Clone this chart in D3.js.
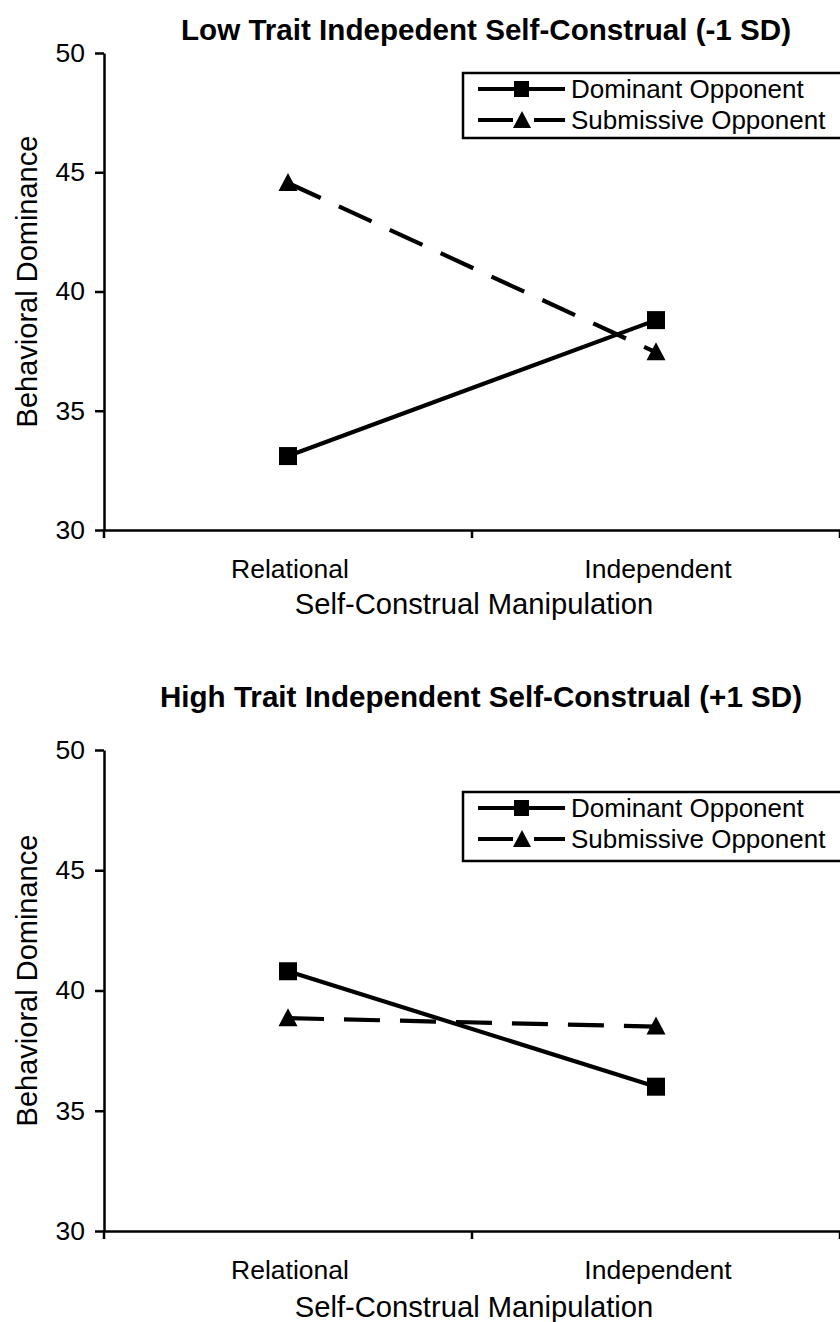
<!DOCTYPE html>
<html>
<head>
<meta charset="utf-8">
<script src="https://cdn.jsdelivr.net/npm/d3@7"></script>
<style>
  html, body { margin: 0; padding: 0; background: #fff; }
  svg { display: block; }
  text { font-family: "Liberation Sans", Arial, Helvetica, sans-serif; fill: #000; }
</style>
</head>
<body>
<svg id="chart" width="840" height="1322"></svg>
<script>
// ---- data ----
const categories = ["Relational", "Independent"];
const seriesNames = ["Dominant Opponent", "Submissive Opponent"];
const yTicks = [30, 35, 40, 45, 50];
const panelTitles = [
  "Low Trait Indepedent Self-Construal (-1 SD)",
  "High Trait Independent Self-Construal (+1 SD)"
];
const lowDominant = [33.1, 38.8];
const lowSubmissive = [44.55, 37.45];
const highDominant = [40.8, 36.0];
const highSubmissive = [38.85, 38.5];
const xAxisTitle = "Self-Construal Manipulation";
const yAxisTitle = "Behavioral Dominance";

// ---- layout (not data) ----
const panels = [
  { top: 53, bottom: 530, titleX: 486, titleY: 40, xTitleDy: 84, legTop: 73, legRow1: 89, legRow2: 120, legBottom: 138,
    series: [lowDominant, lowSubmissive] },
  { top: 750, bottom: 1231, titleX: 481, titleY: 707, xTitleDy: 86, legTop: 792, legRow1: 808, legRow2: 839, legBottom: 861,
    series: [highDominant, highSubmissive] }
];
const left = 104, right = 840;
const svg = d3.select("#chart");

panels.forEach((p, pi) => {
  const g = svg.append("g");
  const x = d3.scaleBand().domain(categories).range([left, right]).paddingInner(0).paddingOuter(0);
  const y = d3.scaleLinear().domain([30, 50]).range([p.bottom, p.top]);

  // title
  g.append("text").attr("x", p.titleX).attr("y", p.titleY).attr("text-anchor", "middle")
    .style("font-size", "29.6px").style("font-weight", "bold").text(panelTitles[pi]);

  // y axis
  const ya = g.append("g").attr("transform", `translate(${left},0)`)
    .call(d3.axisLeft(y).tickValues(yTicks).tickSize(9).tickSizeOuter(0).tickPadding(10));
  ya.selectAll("path, line").attr("stroke", "#000").attr("stroke-width", 2.5);
  ya.selectAll("text").style("font-size", "26.5px").attr("fill", "#000");

  // x axis (labels centered in bands, ticks at band edges)
  const xa = g.append("g").attr("transform", `translate(0,${p.bottom})`)
    .call(d3.axisBottom(x).tickSize(0).tickSizeOuter(0).tickPadding(29));
  xa.selectAll("path").attr("stroke", "#000").attr("stroke-width", 2.5);
  xa.selectAll("text").style("font-size", "26.5px").attr("fill", "#000").attr("dx", 2);
  const edges = categories.map(c => x(c)).concat([x.range()[1]]);
  g.selectAll(".xedge").data(edges).enter().append("line")
    .attr("x1", d => d).attr("x2", d => d)
    .attr("y1", p.bottom).attr("y2", p.bottom + 8)
    .attr("stroke", "#000").attr("stroke-width", 2.5);

  // axis titles
  g.append("text").attr("x", 474).attr("y", p.bottom + p.xTitleDy)
    .attr("text-anchor", "middle").style("font-size", "29.2px").text(xAxisTitle);
  g.append("text").attr("transform", `translate(37,${(p.top + p.bottom) / 2 - 10}) rotate(-90)`)
    .attr("text-anchor", "middle").style("font-size", "29px").text(yAxisTitle);

  // series
  const line = d3.line().x((d, i) => x(categories[i]) + x.bandwidth() / 2).y(d => y(d));
  p.series.forEach((vals, si) => {
    g.append("path").datum(vals).attr("d", line).attr("fill", "none")
      .attr("stroke", "#000").attr("stroke-width", 4.2)
      .attr("stroke-dasharray", si === 1 ? "36,20" : null);
    const pts = g.selectAll(null).data(vals).enter();
    if (si === 0) {
      pts.append("rect")
        .attr("x", (d, i) => x(categories[i]) + x.bandwidth() / 2 - 9)
        .attr("y", d => y(d) - 9).attr("width", 18).attr("height", 18).attr("fill", "#000");
    } else {
      pts.append("path")
        .attr("d", (d, i) => {
          const cx = x(categories[i]) + x.bandwidth() / 2, cy = y(d);
          return `M${cx},${cy - 10}L${cx + 9.5},${cy + 8}L${cx - 9.5},${cy + 8}Z`;
        }).attr("fill", "#000");
    }
  });

  // legend
  const lg = g.append("g");
  lg.append("rect").attr("x", 463).attr("y", p.legTop).attr("width", 400)
    .attr("height", p.legBottom - p.legTop).attr("fill", "#fff")
    .attr("stroke", "#000").attr("stroke-width", 2.5);
  const rows = [p.legRow1, p.legRow2];
  seriesNames.forEach((name, si) => {
    const ry = rows[si];
    lg.append("line").attr("x1", 478).attr("x2", 565).attr("y1", ry).attr("y2", ry)
      .attr("stroke", "#000").attr("stroke-width", 4.2)
      .attr("stroke-dasharray", si === 1 ? "35,21" : null);
    if (si === 0) {
      lg.append("rect").attr("x", 514).attr("y", ry - 8).attr("width", 15).attr("height", 16).attr("fill", "#000");
    } else {
      lg.append("path").attr("d", `M522,${ry - 9}L531,${ry + 8}L513,${ry + 8}Z`).attr("fill", "#000");
    }
    lg.append("text").attr("x", 571).attr("y", ry).attr("dy", "0.35em")
      .style("font-size", "26px").text(name);
  });
});
</script>
</body>
</html>
